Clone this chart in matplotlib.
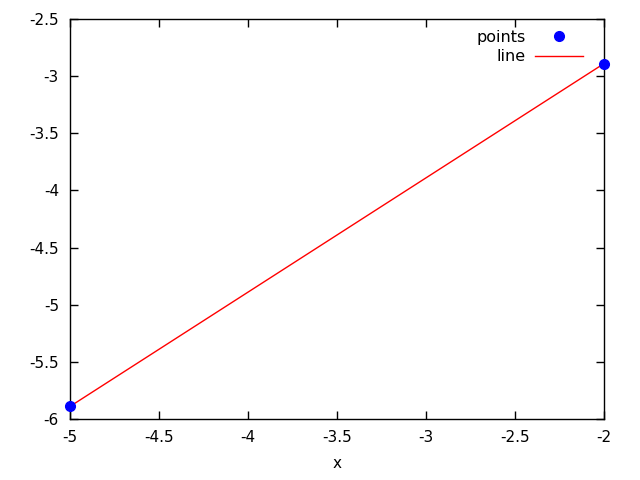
import numpy as np
import matplotlib
matplotlib.use('Agg')
import matplotlib.pyplot as plt

# data
px = [-5, -2]
py = [-5.89, -2.89]
lx = [-5, -2]
ly = [-5.89, -2.89]

xticks = [-5, -4.5, -4, -3.5, -3, -2.5, -2]
yticks = [-6, -5.5, -5, -4.5, -4, -3.5, -3, -2.5]

plt.rcParams['font.family'] = ['DejaVu Sans']
fig = plt.figure(figsize=(6.4, 4.8), dpi=100)
ax = fig.add_axes([70/640, 1 - 419/480, 534/640, 400/480])

ax.plot(lx, ly, '-', lw=1, color='#ff0000', label='line', zorder=2)
ax.plot(px, py, 'o', ms=7, color='#0000ff', label='points', linestyle='none',
        clip_on=False, zorder=3)

ax.set_xlim(-5, -2)
ax.set_ylim(-6, -2.5)
ax.set_xticks(xticks)
ax.set_yticks(yticks)
ax.set_xticklabels(['%g' % v for v in xticks])
ax.set_yticklabels(['%g' % v for v in yticks])
ax.tick_params(direction='in', length=6, width=1, top=True, right=True,
               labelsize=11, pad=8, colors='black')
for s in ax.spines.values():
    s.set_linewidth(1)
ax.set_xlabel('x', fontsize=11, labelpad=8)

h, l = ax.get_legend_handles_labels()
ax.legend(h[::-1], l[::-1], loc='upper right', bbox_to_anchor=(1, 1 + 10/400),
          frameon=False, markerfirst=False, fontsize=11.5, handlelength=3.0,
          borderaxespad=0.9, labelspacing=0.28, handletextpad=0.6)

fig.savefig('out.png', dpi=100)
